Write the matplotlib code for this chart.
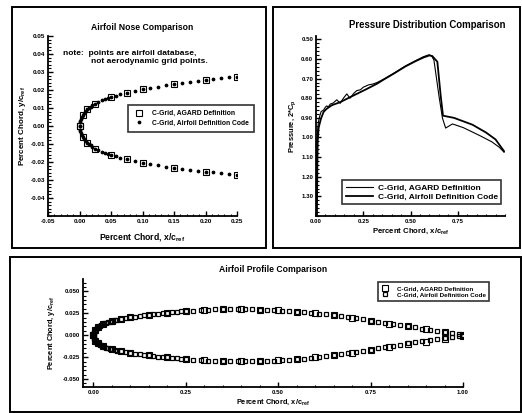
import numpy as np
import matplotlib
matplotlib.use("Agg")
import matplotlib.pyplot as plt
from matplotlib.patches import Rectangle
from matplotlib.ticker import MultipleLocator, FormatStrFormatter

plt.rcParams['font.family'] = ['Liberation Sans', 'DejaVu Sans']
plt.rcParams['font.weight'] = 'bold'
plt.rcParams['mathtext.fontset'] = 'custom'
plt.rcParams['mathtext.rm'] = 'Liberation Sans:bold'
plt.rcParams['mathtext.it'] = 'Liberation Sans:bold'
plt.rcParams['mathtext.bf'] = 'Liberation Sans:bold'

# airfoil coordinates, "Airfoil Definition Code" (dense)
code_x = [0.0, 0.0005, 0.001, 0.002, 0.0035, 0.005, 0.0075, 0.01, 0.0125, 0.015,
          0.0175, 0.02, 0.025, 0.03, 0.035, 0.04, 0.045, 0.05, 0.0575, 0.065,
          0.075, 0.0875, 0.1, 0.1125, 0.125, 0.1375, 0.15, 0.1625, 0.175, 0.1875,
          0.2, 0.2125, 0.225, 0.2375, 0.25, 0.27, 0.29, 0.31, 0.33, 0.35,
          0.37, 0.39, 0.41, 0.43, 0.45, 0.47, 0.49, 0.51, 0.53, 0.55,
          0.57, 0.59, 0.61, 0.63, 0.65, 0.67, 0.69, 0.71, 0.73, 0.75,
          0.77, 0.79, 0.81, 0.83, 0.85, 0.87, 0.89, 0.91, 0.93, 0.95,
          0.97, 0.99, 1.0]
code_yu = [0.0, 0.0021, 0.0029, 0.0040, 0.0052, 0.0061, 0.0074, 0.0084, 0.0093, 0.0101,
           0.0108, 0.0114, 0.0125, 0.0134, 0.0142, 0.0149, 0.0155, 0.0161, 0.0169, 0.0176,
           0.0185, 0.0195, 0.0204, 0.0212, 0.0219, 0.0226, 0.0232, 0.0238, 0.0244, 0.0250,
           0.0255, 0.0260, 0.0265, 0.0270, 0.0275, 0.0281, 0.0286, 0.0290, 0.0293, 0.0295,
           0.0296, 0.0296, 0.0295, 0.0293, 0.0291, 0.0288, 0.0284, 0.0279, 0.0274, 0.0268,
           0.0261, 0.0253, 0.0245, 0.0236, 0.0226, 0.0215, 0.0204, 0.0192, 0.0179, 0.0166,
           0.0153, 0.0140, 0.0127, 0.0114, 0.0101, 0.0088, 0.0075, 0.0062, 0.0049, 0.0036,
           0.0023, 0.0010, 0.0004]
code_yl = [0.0, -0.0021, -0.0029, -0.0040, -0.0052, -0.0061, -0.0074, -0.0084, -0.0093, -0.0101,
           -0.0108, -0.0114, -0.0125, -0.0134, -0.0142, -0.0149, -0.0155, -0.0160, -0.0168, -0.0175,
           -0.0184, -0.0194, -0.0203, -0.0211, -0.0218, -0.0225, -0.0231, -0.0237, -0.0243, -0.0248,
           -0.0253, -0.0258, -0.0263, -0.0267, -0.0272, -0.0278, -0.0284, -0.0289, -0.0293, -0.0296,
           -0.0298, -0.0299, -0.0299, -0.0298, -0.0296, -0.0293, -0.0289, -0.0285, -0.0280, -0.0274,
           -0.0267, -0.0259, -0.0250, -0.0240, -0.0229, -0.0217, -0.0204, -0.0191, -0.0177, -0.0163,
           -0.0149, -0.0135, -0.0121, -0.0107, -0.0094, -0.0081, -0.0069, -0.0057, -0.0045, -0.0033,
           -0.0021, -0.0009, -0.0004]

# airfoil coordinates, AGARD definition (sparse)
agard_x = [0.0, 0.005, 0.0125, 0.025, 0.05, 0.075, 0.1, 0.15, 0.2, 0.25,
           0.3, 0.35, 0.4, 0.45, 0.5, 0.55, 0.6, 0.65, 0.7, 0.75,
           0.8, 0.85, 0.9, 0.95, 1.0]
agard_yu = [0.0, 0.0061, 0.0093, 0.0125, 0.0161, 0.0185, 0.0204, 0.0232, 0.0255, 0.0275,
            0.0287, 0.0295, 0.0296, 0.0291, 0.0282, 0.0269, 0.0250, 0.0227, 0.0198, 0.0166,
            0.0133, 0.0100, 0.0068, 0.0036, 0.0004]
agard_yl = [0.0, -0.0061, -0.0093, -0.0125, -0.0160, -0.0184, -0.0203, -0.0231, -0.0253, -0.0272,
            -0.0287, -0.0297, -0.0299, -0.0296, -0.0287, -0.0272, -0.0252, -0.0228, -0.0198, -0.0166,
            -0.0135, -0.0104, -0.0073, -0.0040, -0.0004]

# pressure distributions
cp_agard_x = [0.000, 0.002, 0.004, 0.008, 0.013, 0.020, 0.027, 0.040, 0.050, 0.057,
              0.065, 0.075, 0.090, 0.110, 0.128, 0.145, 0.163, 0.180, 0.200, 0.216,
              0.235, 0.250, 0.278, 0.300, 0.323, 0.358, 0.411, 0.473, 0.527, 0.565,
              0.590, 0.600, 0.612, 0.624, 0.651, 0.669, 0.686, 0.722, 0.780, 0.870,
              0.930, 0.970, 0.995]
cp_agard = [1.395, 1.200, 1.050, 0.970, 0.920, 0.890, 0.868, 0.860, 0.845, 0.839,
            0.845, 0.830, 0.825, 0.808, 0.826, 0.800, 0.778, 0.800, 0.775, 0.761,
            0.757, 0.744, 0.732, 0.728, 0.720, 0.703, 0.673, 0.636, 0.609, 0.590,
            0.581, 0.579, 0.585, 0.606, 0.791, 0.901, 0.952, 0.931, 0.950, 0.992,
            1.022, 1.050, 1.075]
cp_code_x = [0.005, 0.007, 0.009, 0.014, 0.026, 0.040, 0.055, 0.083, 0.128, 0.190,
             0.260, 0.323, 0.358, 0.411, 0.473, 0.527, 0.570, 0.600, 0.615, 0.642,
             0.660, 0.672, 0.730, 0.828, 0.900, 0.950, 0.995]
cp_code = [1.395, 1.150, 1.020, 0.950, 0.905, 0.870, 0.855, 0.836, 0.820, 0.790,
           0.757, 0.726, 0.705, 0.675, 0.638, 0.611, 0.592, 0.582, 0.585, 0.614,
           0.790, 0.889, 0.900, 0.935, 0.975, 1.010, 1.070]

lab_agard = 'C-Grid, AGARD Definition'
lab_code = 'C-Grid, Airfoil Definition Code'
xlab = r'Percent Chord, x/c$_{ref}$'
ylab = r'Percent Chord, y/c$_{ref}$'

W, H = 522, 413
fig = plt.figure(figsize=(W / 100, H / 100), dpi=100)
fig.patch.set_facecolor('white')


def px_axes(l, t, r, b):
    return fig.add_axes([l / W, 1 - b / H, (r - l) / W, (b - t) / H])


def style(ax, size):
    for s in ['top', 'right']:
        ax.spines[s].set_visible(False)
    for s in ['left', 'bottom']:
        ax.spines[s].set_linewidth(1.3)
    ax.tick_params(which='major', direction='in', length=3.5, width=1.0, labelsize=size, pad=2)
    ax.tick_params(which='minor', direction='in', length=1.8, width=0.8)
    for lb in ax.get_xticklabels() + ax.get_yticklabels():
        lb.set_fontweight('bold')


def boxed_legend(ax, anchor, size, **kw):
    leg = ax.legend(loc='center', bbox_to_anchor=anchor, fontsize=size, frameon=True,
                    fancybox=False, edgecolor='black', **kw)
    leg.get_frame().set_linewidth(1.2)
    for t in leg.get_texts():
        t.set_fontweight('bold')
    return leg


# panel frames
for (l, t, r, b) in [(12, 7, 266, 248), (273, 7, 520, 248), (10, 257, 521, 412)]:
    fig.patches.append(Rectangle((l / W, 1 - b / H), (r - l) / W, (b - t) / H,
                                 transform=fig.transFigure, fill=False,
                                 edgecolor='black', linewidth=1.4))

# ---- Airfoil Nose Comparison ----
ax1 = px_axes(48, 36, 237, 216)
ax1.plot(agard_x, agard_yu, 's', ms=3.8, mfc='none', mec='black', mew=0.8, label=lab_agard)
ax1.plot(agard_x, agard_yl, 's', ms=3.8, mfc='none', mec='black', mew=0.8)
ax1.plot(code_x, code_yu, 'o', ms=1.7, color='black', label=lab_code)
ax1.plot(code_x, code_yl, 'o', ms=1.7, color='black')
ax1.set_xlim(-0.05, 0.25)
ax1.set_ylim(-0.05, 0.05)
ax1.set_xticks([-0.05, 0.0, 0.05, 0.10, 0.15, 0.20, 0.25])
ax1.set_yticks([-0.04, -0.03, -0.02, -0.01, 0.0, 0.01, 0.02, 0.03, 0.04, 0.05])
ax1.xaxis.set_minor_locator(MultipleLocator(0.01))
ax1.yaxis.set_minor_locator(MultipleLocator(0.002))
ax1.xaxis.set_major_formatter(FormatStrFormatter('%.2f'))
ax1.yaxis.set_major_formatter(FormatStrFormatter('%.2f'))
style(ax1, 4.6)
ax1.set_title('Airfoil Nose Comparison', fontsize=6.2, fontweight='bold', pad=4)
ax1.set_xlabel(xlab, fontsize=6.2, fontweight='bold', labelpad=5)
ax1.set_ylabel(ylab, fontsize=5.8, fontweight='bold', labelpad=2)
ax1.text(0.079, 0.905, 'note:  points are airfoil database,', transform=ax1.transAxes,
         fontsize=6.0, fontweight='bold', va='center')
ax1.text(0.225, 0.86, 'not aerodynamic grid points.', transform=ax1.transAxes,
         fontsize=6.0, fontweight='bold', va='center')
boxed_legend(ax1, (0.757, 0.542), 4.9, handletextpad=1.2, borderpad=0.7,
             labelspacing=0.4, handlelength=1.6)

# ---- Pressure Distribution Comparison ----
ax2 = px_axes(316, 36, 505, 216)
ax2.plot(cp_agard_x, cp_agard, '-', color='black', lw=0.8, label=lab_agard)
ax2.plot(cp_code_x, cp_code, '-', color='black', lw=1.3, label=lab_code)
ax2.set_xlim(0.0, 1.0)
ax2.set_ylim(1.40, 0.483)
ax2.set_xticks([0.0, 0.25, 0.5, 0.75])
ax2.set_yticks([0.5, 0.6, 0.7, 0.8, 0.9, 1.0, 1.1, 1.2, 1.3])
ax2.xaxis.set_minor_locator(MultipleLocator(0.05))
ax2.yaxis.set_minor_locator(MultipleLocator(0.02))
ax2.xaxis.set_major_formatter(FormatStrFormatter('%.2f'))
ax2.yaxis.set_major_formatter(FormatStrFormatter('%.2f'))
style(ax2, 4.4)
ax2.text(0.587, 1.06, 'Pressure Distribution Comparison', transform=ax2.transAxes,
         fontsize=6.9, fontweight='bold', ha='center', va='center')
ax2.set_xlabel(xlab, fontsize=5.6, fontweight='bold', labelpad=2)
ax2.set_ylabel(r'Pressure, 2*C$_p$', fontsize=5.4, fontweight='bold', labelpad=2)
boxed_legend(ax2, (0.56, 0.133), 6.0, handlelength=3.2, borderpad=0.45,
             labelspacing=0.15, handletextpad=0.6)

# ---- Airfoil Profile Comparison ----
ax3 = px_axes(83, 279, 463, 387)
ax3.plot(agard_x, agard_yu, 's', ms=3.8, mfc='none', mec='black', mew=0.8, label=lab_agard)
ax3.plot(agard_x, agard_yl, 's', ms=3.8, mfc='none', mec='black', mew=0.8)
ax3.plot(code_x, code_yu, 's', ms=2.4, mfc='none', mec='black', mew=0.9, label=lab_code)
ax3.plot(code_x, code_yl, 's', ms=2.4, mfc='none', mec='black', mew=0.9)
ax3.set_xlim(-0.028, 1.0)
ax3.set_ylim(-0.059, 0.064)
ax3.set_xticks([0.0, 0.25, 0.5, 0.75, 1.0])
ax3.set_yticks([-0.05, -0.025, 0.0, 0.025, 0.05])
ax3.xaxis.set_minor_locator(MultipleLocator(0.05))
ax3.yaxis.set_minor_locator(MultipleLocator(0.005))
ax3.xaxis.set_major_formatter(FormatStrFormatter('%.2f'))
ax3.yaxis.set_major_formatter(FormatStrFormatter('%.3f'))
style(ax3, 4.4)
ax3.text(0.5, 1.09, 'Airfoil Profile Comparison', transform=ax3.transAxes,
         fontsize=6.2, fontweight='bold', ha='center', va='center')
ax3.set_xlabel(xlab, fontsize=5.3, fontweight='bold', labelpad=2)
ax3.set_ylabel(ylab, fontsize=5.3, fontweight='bold', labelpad=4)
boxed_legend(ax3, (0.922, 0.884), 4.5, handletextpad=1.2, borderpad=0.5,
             labelspacing=0.2, handlelength=1.4)

fig.savefig('out.png', dpi=100, facecolor='white')
